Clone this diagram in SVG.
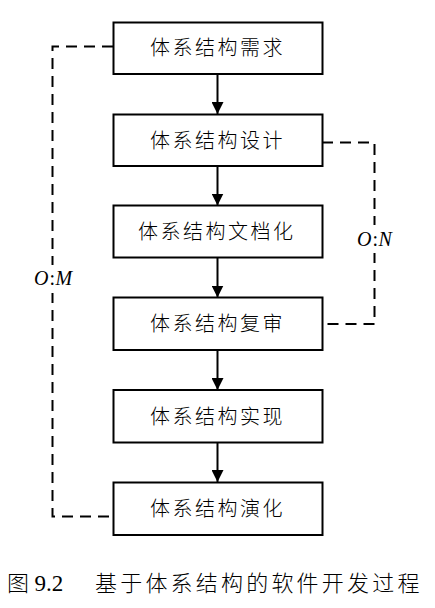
<svg xmlns="http://www.w3.org/2000/svg" width="435" height="608" viewBox="0 0 435 608">
<defs>
<style>
.box{fill:#fff;stroke:#000;stroke-width:2}
.lbl{font-family:"Liberation Serif","Noto Sans CJK SC",serif;font-size:20px;font-weight:300;letter-spacing:2.5px;fill:#000}
.arr{stroke:#000;stroke-width:2;fill:none;marker-end:url(#ah)}
.dash{stroke:#000;stroke-width:2;fill:none;stroke-dasharray:11 7}
.it{font-family:"Liberation Serif",serif;font-size:20px;font-style:italic;fill:#000}
.bg{fill:#fff}
.cap{font-family:"Liberation Serif","Noto Sans CJK SC",serif;font-size:22px;font-weight:300;fill:#000}
</style>
<marker id="ah" viewBox="0 0 12 12" refX="12" refY="6" markerWidth="12" markerHeight="12" markerUnits="userSpaceOnUse" orient="auto">
<path d="M0,0 L12,6 L0,12 z" fill="#000"/>
</marker>
</defs>
<g id="connectors">
<line class="arr" x1="217.5" y1="74" x2="217.5" y2="114"/>
<line class="arr" x1="217.5" y1="166" x2="217.5" y2="205.5"/>
<line class="arr" x1="217.5" y1="257.5" x2="217.5" y2="297.5"/>
<line class="arr" x1="217.5" y1="350" x2="217.5" y2="390"/>
<line class="arr" x1="217.5" y1="442" x2="217.5" y2="482"/>
<polyline class="dash" points="113,46.5 52.5,46.5 52.5,516.5 113,516.5"/>
<polyline class="dash" points="322,142.5 374.5,142.5 374.5,324 322,324"/>
<rect class="bg" x="355" y="225" width="42" height="28"/>
<rect class="bg" x="32" y="265" width="46" height="28"/>
<text class="it" x="357" y="246">O<tspan font-style="normal" dx="1">:</tspan><tspan dx="0.5">N</tspan></text>
<text class="it" x="34" y="285">O<tspan font-style="normal" dx="1">:</tspan><tspan dx="0.5">M</tspan></text>
</g>
<g id="n1"><rect class="box" x="113.5" y="22.5" width="209" height="51.5"/><text class="lbl" x="150" y="55">体系结构需求</text></g>
<g id="n2"><rect class="box" x="113.5" y="114.5" width="209" height="51.5"/><text class="lbl" x="150" y="148">体系结构设计</text></g>
<g id="n3"><rect class="box" x="113.5" y="205.5" width="209" height="52"/><text class="lbl" x="138" y="239">体系结构文档化</text></g>
<g id="n4"><rect class="box" x="113.5" y="297.5" width="209" height="52.5"/><text class="lbl" x="150" y="331">体系结构复审</text></g>
<g id="n5"><rect class="box" x="113.5" y="390" width="209" height="52.5"/><text class="lbl" x="150" y="424">体系结构实现</text></g>
<g id="n6"><rect class="box" x="113.5" y="482.5" width="209" height="52.5"/><text class="lbl" x="150" y="516">体系结构演化</text></g>
<text class="cap" x="7" y="591">图 <tspan font-size="23">9.2</tspan><tspan x="95" letter-spacing="3.2">基于体系结构的软件开发过程</tspan></text>
</svg>
